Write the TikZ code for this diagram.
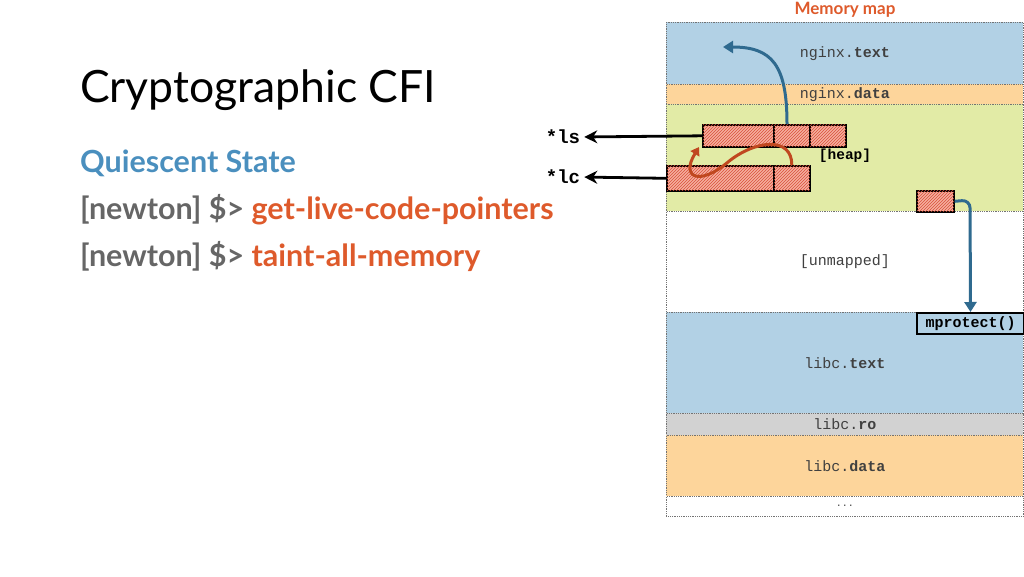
\documentclass[tikz,border=0pt]{standalone}
\usepackage{fontspec}
\usetikzlibrary{arrows.meta,patterns}
\newfontfamily\lato{Lato}
\newfontfamily\mono{Liberation Mono}
\definecolor{rblue}{HTML}{B2D1E5}
\definecolor{rorange}{HTML}{FDD59B}
\definecolor{rgreen}{HTML}{E2EBA6}
\definecolor{rgray}{HTML}{D2D2D2}
\definecolor{hatchbg}{HTML}{F6AFA0}
\definecolor{hatchfg}{HTML}{D8503A}
\definecolor{arrblue}{HTML}{2F6A8F}
\definecolor{arrred}{HTML}{C04820}
\definecolor{titleorange}{HTML}{DE5A2B}
\definecolor{qblue}{HTML}{4A8FBE}
\definecolor{promptgray}{HTML}{666666}
\tikzset{
  region/.style={draw=black!55, densely dotted, line width=0.8pt, anchor=north west, inner sep=0pt, minimum width=357pt, font=\mono\fontsize{15}{17}\selectfont, text=black!75},
  hatch/.style={draw=black, line width=1.6pt, fill=hatchbg, postaction={pattern=north east lines, pattern color=hatchfg}, anchor=north west, inner sep=0pt},
  ptr/.style={line width=2.8pt, shorten >=4pt, -{Stealth[length=13pt,width=13pt]}},
  monolab/.style={font=\mono\bfseries\fontsize{19}{21}\selectfont, inner sep=0pt},
  bodytext/.style={anchor=base west, inner sep=0pt, font=\lato\bfseries\fontsize{30.5}{32}\selectfont},
}
\begin{document}
\begin{tikzpicture}[x=1pt,y=-1pt]
\useasboundingbox (0,0) rectangle (1024,576);
% left text
\node[anchor=base west, inner sep=0pt, font=\lato\fontsize{44.5}{48}\selectfont] (title) at (80,102) {Cryptographic CFI};
\node[bodytext, text=qblue] (qs) at (80,172) {Quiescent State};
\node[bodytext, text=promptgray] (l1) at (80,219) {[newton] \$> \textcolor{titleorange}{get-live-code-pointers}};
\node[bodytext, text=promptgray] (l2) at (80,266) {[newton] \$> \textcolor{titleorange}{taint-all-memory}};
% memory map
\node[font=\lato\bfseries\fontsize{17}{19}\selectfont, text=titleorange, inner sep=0pt] (mm) at (845,10) {Memory map};
\node[region, fill=rblue, minimum height=62pt] (ntext) at (666,22) {nginx.\textbf{text}};
\node[region, fill=rorange, minimum height=20pt] (ndata) at (666,84) {nginx.\textbf{data}};
\node[region, fill=rgreen, minimum height=107pt] (heap) at (666,104) {};
\node[region, fill=white, minimum height=101pt] (unm) at (666,211) {[unmapped]};
\node[region, fill=rblue, minimum height=101pt] (ltext) at (666,312) {libc.\textbf{text}};
\node[region, fill=rgray, minimum height=22pt] (lro) at (666,413) {libc.\textbf{ro}};
\node[region, fill=rorange, minimum height=61pt] (ldata) at (666,435) {libc.\textbf{data}};
\node[region, fill=white, minimum height=20pt] (dots) at (666,496) {\raisebox{2pt}{\fontsize{10}{10}\selectfont...}};
\node[font=\mono\bfseries\fontsize{14.5}{16}\selectfont, inner sep=0pt] (heaplab) at (845,156) {[heap]};
% hatched boxes
\node[hatch, minimum width=71pt, minimum height=22pt] (a1) at (702,124) {};
\node[hatch, minimum width=36pt, minimum height=22pt] (a2) at (773,124) {};
\node[hatch, minimum width=36pt, minimum height=22pt] (a3) at (809,124) {};
\node[hatch, minimum width=107pt, minimum height=25pt] (b1) at (666,165) {};
\node[hatch, minimum width=36pt, minimum height=25pt] (b2) at (773,165) {};
\node[hatch, minimum width=37pt, minimum height=21pt] (c1) at (916,190) {};
\node[draw=black, line width=2pt, fill=rblue, anchor=north west, inner sep=0pt, minimum width=107pt, minimum height=21pt, font=\mono\bfseries\fontsize{15}{17}\selectfont] (mp) at (916,312) {mprotect()};
% pointer labels
\node[monolab] (ls) at (563,137) {*ls};
\node[monolab] (lc) at (563,177) {*lc};
\draw[ptr] (a1.west) -- (ls.east);
\draw[ptr] (b1.west) -- (lc.east);
% arrows
\draw[arrblue, line width=3pt, -{Triangle[length=10pt,width=12pt]}] (787,124) .. controls (787,65) and (772,47) .. (723,47);
\draw[arrred, line width=3pt, -{Triangle[length=8pt,width=10pt]}] (b2.north) .. controls (792,136) and (755,140) .. (728,162) .. controls (700,186) and (680,178) .. (699,147);
\draw[arrblue, line width=3pt, rounded corners=8pt, -{Triangle[length=10pt,width=12pt]}] (c1.east) -- (970,200) -- (mp.north);
\end{tikzpicture}
\end{document}
